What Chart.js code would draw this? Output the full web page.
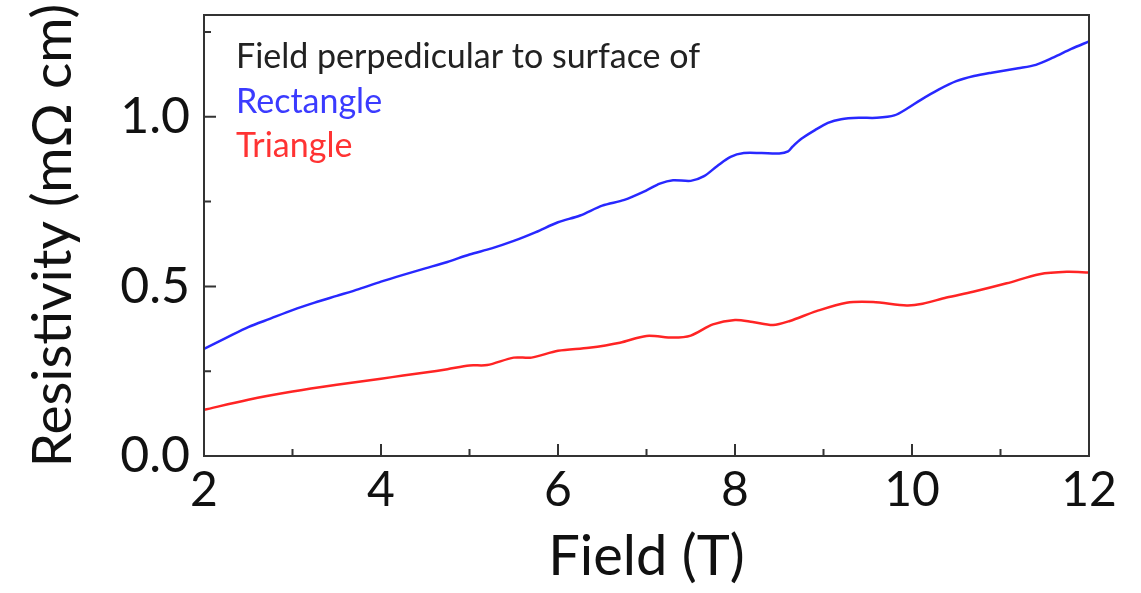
<!DOCTYPE html>
<html>
<head>
<meta charset="utf-8">
<script src="https://cdn.jsdelivr.net/npm/chart.js@4.4.0/dist/chart.umd.min.js"></script>
<style>
  html, body { margin: 0; padding: 0; background: #fff; }
  canvas { display: block; }
</style>
</head>
<body>
<canvas id="resChart" width="1141" height="593"></canvas>
<script>
// Field (T) and resistivity (mOhm cm)
const fieldRect = [2.0, 2.25, 2.5, 2.75, 3.0, 3.25, 3.5, 3.75, 4.0, 4.25, 4.5, 4.75, 5.0, 5.25, 5.5, 5.75, 6.0, 6.25, 6.5, 6.75, 7.0, 7.15, 7.3, 7.5, 7.65, 7.8, 7.95, 8.1, 8.3, 8.5, 8.6, 8.65, 8.75, 8.9, 9.05, 9.2, 9.4, 9.6, 9.8, 9.95, 10.1, 10.3, 10.5, 10.7, 10.9, 11.2, 11.4, 11.6, 11.8, 12.0];
const rhoRect = [0.316, 0.348, 0.380, 0.405, 0.430, 0.452, 0.472, 0.492, 0.514, 0.534, 0.553, 0.572, 0.594, 0.612, 0.634, 0.660, 0.689, 0.709, 0.738, 0.755, 0.783, 0.803, 0.813, 0.811, 0.825, 0.855, 0.882, 0.893, 0.893, 0.892, 0.898, 0.912, 0.935, 0.960, 0.982, 0.993, 0.997, 0.997, 1.004, 1.025, 1.050, 1.080, 1.105, 1.120, 1.130, 1.143, 1.153, 1.175, 1.200, 1.222];

const fieldTri = [2.0, 2.5, 3.0, 3.5, 4.0, 4.25, 4.5, 4.75, 5.0, 5.2, 5.5, 5.7, 6.0, 6.35, 6.7, 7.0, 7.3, 7.5, 7.75, 8.0, 8.2, 8.43, 8.62, 8.92, 9.26, 9.56, 9.94, 10.12, 10.39, 10.69, 11.07, 11.44, 11.75, 12.0];
const rhoTri = [0.136, 0.166, 0.190, 0.210, 0.228, 0.237, 0.246, 0.256, 0.267, 0.268, 0.290, 0.290, 0.310, 0.319, 0.334, 0.354, 0.349, 0.355, 0.388, 0.401, 0.395, 0.386, 0.398, 0.427, 0.452, 0.454, 0.444, 0.449, 0.467, 0.484, 0.509, 0.536, 0.543, 0.541];

const xMinorTicks = [3, 5, 7, 9, 11];
const yMinorTicks = [0.25, 0.75, 1.25];

const FONT = 'Lato, "Open Sans", sans-serif';

function toPoints(xs, ys) {
  return xs.map((x, i) => ({ x: x, y: ys[i] }));
}

// box around the plot + inward ticks
const frameTicks = {
  id: 'frameTicks',
  afterDraw(chart) {
    const { ctx, chartArea: a, scales } = chart;
    ctx.save();
    ctx.strokeStyle = '#333';
    ctx.lineWidth = 2;
    ctx.strokeRect(a.left, a.top, a.right - a.left, a.bottom - a.top);

    ctx.beginPath();
    scales.x.ticks.forEach(t => {
      const px = scales.x.getPixelForValue(t.value);
      ctx.moveTo(px, a.bottom); ctx.lineTo(px, a.bottom - 12);
    });
    xMinorTicks.forEach(v => {
      const px = scales.x.getPixelForValue(v);
      ctx.moveTo(px, a.bottom); ctx.lineTo(px, a.bottom - 7);
    });
    scales.y.ticks.forEach(t => {
      if (Math.abs(t.value * 2 - Math.round(t.value * 2)) > 1e-6) return;
      const py = scales.y.getPixelForValue(t.value);
      ctx.moveTo(a.left, py); ctx.lineTo(a.left + 12, py);
    });
    yMinorTicks.forEach(v => {
      const py = scales.y.getPixelForValue(v);
      ctx.moveTo(a.left, py); ctx.lineTo(a.left + 7, py);
    });
    ctx.stroke();

    // legend text
    ctx.textAlign = 'left';
    ctx.textBaseline = 'alphabetic';
    ctx.font = '34px ' + FONT;
    ctx.fillStyle = '#222';
    ctx.fillText('Field perpedicular to surface of', 236, 68);
    ctx.fillStyle = '#3b3bff';
    ctx.fillText('Rectangle', 236, 113);
    ctx.fillStyle = '#ff3333';
    ctx.fillText('Triangle', 236, 157);
    ctx.restore();
  }
};

new Chart(document.getElementById('resChart'), {
  type: 'scatter',
  data: {
    datasets: [
      {
        label: 'Rectangle',
        data: toPoints(fieldRect, rhoRect),
        showLine: true,
        borderColor: '#2828ff',
        borderWidth: 2.5,
        pointRadius: 0,
        tension: 0.3,
        fill: false
      },
      {
        label: 'Triangle',
        data: toPoints(fieldTri, rhoTri),
        showLine: true,
        borderColor: '#ff2424',
        borderWidth: 2.5,
        pointRadius: 0,
        tension: 0.3,
        fill: false
      }
    ]
  },
  options: {
    responsive: false,
    animation: false,
    layout: { padding: { top: 15, right: 52, left: 0, bottom: 0 } },
    plugins: {
      legend: { display: false },
      tooltip: { enabled: false }
    },
    scales: {
      x: {
        type: 'linear',
        min: 2,
        max: 12,
        grid: { display: false, drawTicks: false },
        border: { display: false },
        ticks: {
          stepSize: 2,
          padding: 6,
          color: '#111',
          font: { family: FONT, size: 48 }
        },
        title: {
          display: true,
          text: 'Field (T)',
          color: '#111',
          font: { family: FONT, size: 56 },
          padding: { top: 0, bottom: 2 }
        },
        afterFit: s => { s.height = 137; s.paddingLeft = 0; s.paddingRight = 0; }
      },
      y: {
        type: 'linear',
        min: 0,
        max: 1.3,
        grid: { display: false, drawTicks: false },
        border: { display: false },
        ticks: {
          stepSize: 0.5,
          includeBounds: false,
          padding: 14,
          color: '#111',
          font: { family: FONT, size: 50 },
          callback: v => v.toFixed(1)
        },
        title: {
          display: true,
          text: 'Resistivity (mΩ cm)',
          color: '#111',
          font: { family: FONT, size: 55 },
          padding: { top: 20, bottom: 0 }
        },
        afterFit: s => { s.width = 204; s.paddingTop = 0; s.paddingBottom = 0; }
      }
    }
  },
  plugins: [frameTicks]
});
</script>
</body>
</html>
